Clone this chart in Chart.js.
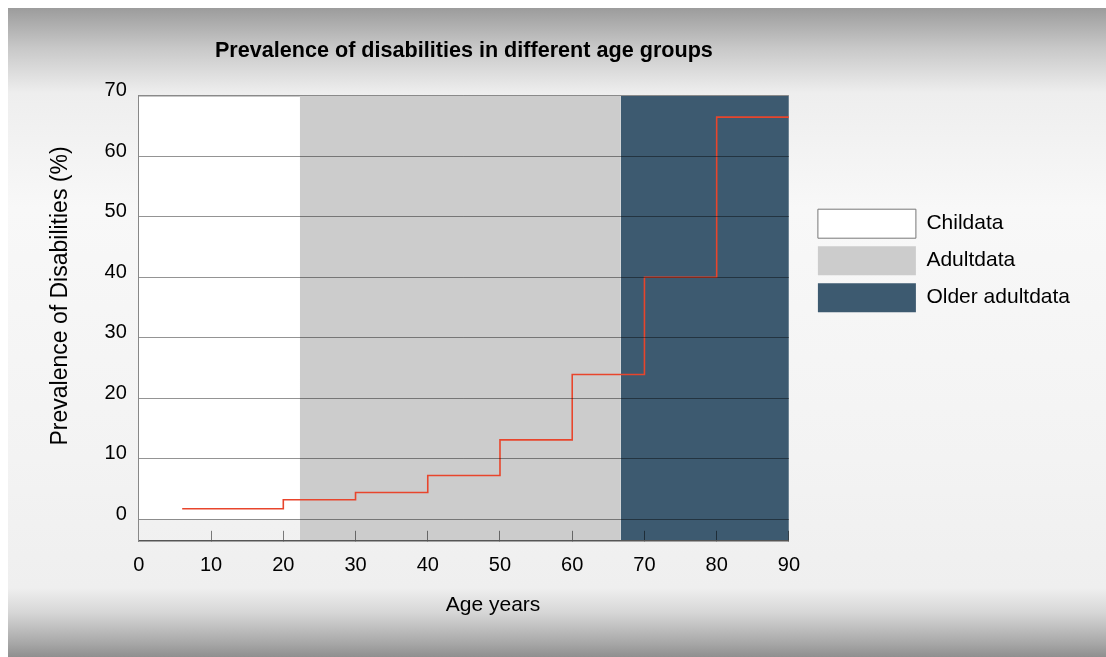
<!DOCTYPE html>
<html>
<head>
<meta charset="utf-8">
<script src="https://cdn.jsdelivr.net/npm/chart.js@4.4.1/dist/chart.umd.min.js"></script>
<style>
  html, body { margin: 0; padding: 0; background: #fff; }
  #frame {
    position: absolute; left: 8px; top: 8px; right: 0; bottom: 0;
    background: linear-gradient(to bottom, #9c9c9c 0px, #c8c8c8 40px, #eeeeee 85px, #f8f8f8 200px, #f3f3f3 450px, #efefef 580px, #d6d6d6 605px, #a8a8a8 635px, #8f8f8f 649px);
  }
  #wrap { position: absolute; left: 0; top: 0; width: 1106px; height: 657px; }
</style>
</head>
<body>
<div id="frame"></div>
<div id="wrap"><canvas id="myChart"></canvas></div>
<script>
const ctx = document.getElementById('myChart');

// step line: age (x) and prevalence (%)
const ages = [6, 20, 30, 40, 50, 60, 70, 80, 90];
const prevalence = [1.7, 3.2, 4.4, 7.2, 13.1, 23.9, 40.0, 66.5, 66.5];

// shaded age groups
const bandNames = ['Childata', 'Adultdata', 'Older adultdata'];
const bandStart = [0, 22.3, 66.7];
const bandEnd = [22.3, 66.7, 90];
const bandColors = ['#ffffff', '#cccccc', '#3d5a70'];

const yTicks = [0, 10, 20, 30, 40, 50, 60, 70];

const FONT = "'Liberation Sans', Arial, Helvetica, sans-serif";

const lineData = ages.map((a, i) => ({ x: a, y: prevalence[i] }));

const bandSets = bandNames.map((name, i) => ({
    label: name,
    data: [{ x: bandStart[i], y: 70 }, { x: bandEnd[i], y: 70 }],
    backgroundColor: bandColors[i],
    borderColor: i === 0 ? '#777777' : bandColors[i],
    borderWidth: i === 0 ? 1 : 0,
    pointRadius: 0,
    fill: i === 0 ? 'origin' : 'start'
}));

const data = {
    datasets: [
        {
            label: 'Prevalence',
            data: lineData,
            borderColor: '#e8452c',
            borderWidth: 1.6,
            stepped: true,
            pointRadius: 0,
            fill: false
        },
        ...bandSets
    ]
};

let chart = new Chart(ctx, {
    type: 'line',
    data: data,
    options: {
        responsive: true,
        maintainAspectRatio: false,
        animation: false,
        layout: {
            padding: { top: 38, left: 43, bottom: 35, right: 26 }
        },
        plugins: {
            title: {
                display: true,
                fullSize: false,
                text: 'Prevalence of disabilities in different age groups',
                color: '#000',
                font: { family: FONT, size: 21.6, weight: 'bold' },
                padding: { top: 0, bottom: 32 }
            },
            legend: {
                position: 'right',
                align: 'start',
                maxWidth: 320,
                title: {
                    display: true,
                    text: ' ',
                    font: { family: FONT, size: 21 },
                    padding: { top: 0, bottom: 138 }
                },
                labels: {
                    boxWidth: 98,
                    boxHeight: 29,
                    padding: 8,
                    color: '#000',
                    font: { family: FONT, size: 21 },
                    filter: (item) => item.datasetIndex > 0
                }
            },
            tooltip: { enabled: false }
        },
        scales: {
            x: {
                type: 'linear',
                min: 0,
                max: 90,
                border: { display: true, color: '#555555', width: 1.5, z: 1 },
                grid: {
                    drawOnChartArea: false,
                    drawTicks: true,
                    tickLength: -10,
                    color: 'rgba(0,0,0,0.5)',
                    z: 1
                },
                ticks: {
                    stepSize: 10,
                    padding: 23,
                    color: '#000',
                    font: { family: FONT, size: 20 }
                },
                title: {
                    display: true,
                    // leading spaces push the title right of centre, as in the original
                    text: '          Age years',
                    color: '#000',
                    font: { family: FONT, size: 21 },
                    padding: { top: -8, bottom: 4 }
                }
            },
            y: {
                min: -3.6,
                max: 70,
                afterBuildTicks: (scale) => {
                    scale.ticks = yTicks.map(v => ({ value: v }));
                },
                border: { display: true, color: '#888888', width: 1, z: 1 },
                grid: {
                    drawTicks: false,
                    color: 'rgba(0,0,0,0.42)',
                    z: 1
                },
                ticks: {
                    padding: 12,
                    labelOffset: -5,
                    color: '#000',
                    font: { family: FONT, size: 20 }
                },
                title: {
                    display: true,
                    text: '       Prevalence of Disabilities (%)',
                    color: '#000',
                    font: { family: FONT, size: 23 },
                    padding: { top: 4, bottom: 18 }
                }
            },
            // spacer between plot and legend
            gap: {
                position: 'right',
                display: true,
                grid: { display: false },
                border: { display: false },
                ticks: { display: false },
                afterFit: (scale) => { scale.width = 21; }
            }
        }
    }
});
</script>
</body>
</html>
